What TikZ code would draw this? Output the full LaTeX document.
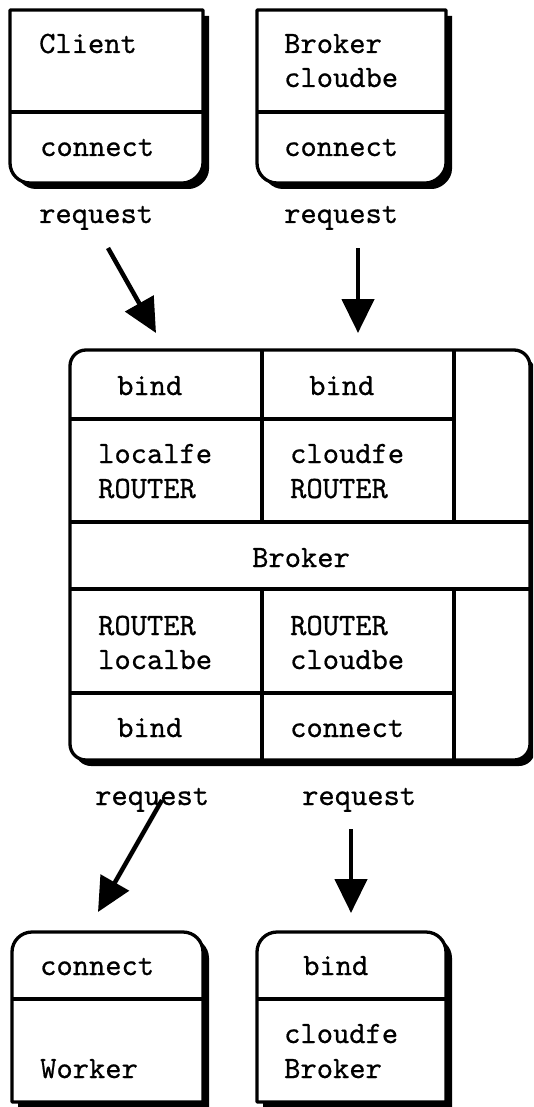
\documentclass[tikz,border=0pt]{standalone}
\usepackage{fontspec}
\newfontfamily\ttheavy{lmmono10-regular.otf}[FakeBold=0.6]
\usetikzlibrary{arrows.meta}
\begin{document}
\begin{tikzpicture}[x=1pt,y=-1pt,
  lbl/.style={anchor=base west,inner sep=0pt,font=\ttheavy\fontsize{31}{35}\selectfont},
  frame/.style={draw=black,line width=3.3pt,fill=white,line join=round},
  shade/.style={fill=black},
  div/.style={line width=3.8pt},
  arr/.style={line width=4.5pt,-{Triangle[length=34pt,width=32pt]}}]
\useasboundingbox (0,0) rectangle (533,1107);
\begin{scope}
\clip (0,0) rectangle (533,1107);
% ---------- top-left box (Client)
\begin{scope}[shift={(6,6)}]
\fill[shade] (10,10) -- (203,10) -- (203,163) .. controls (203,174) and (192,183) .. (183,183) -- (30,183) .. controls (19,183) and (10,174) .. (10,163) -- cycle;
\end{scope}
\draw[frame] (10,10) -- (203,10) -- (203,163) .. controls (203,174) and (192,183) .. (183,183) -- (30,183) .. controls (19,183) and (10,174) .. (10,163) -- cycle;
\draw[div] (10,112) -- (203,112);
% ---------- top-right box (Broker cloudbe)
\begin{scope}[shift={(6,6)}]
\fill[shade] (257,10) -- (446,10) -- (446,163) .. controls (446,174) and (435,183) .. (426,183) -- (277,183) .. controls (266,183) and (257,174) .. (257,163) -- cycle;
\end{scope}
\draw[frame] (257,10) -- (446,10) -- (446,163) .. controls (446,174) and (435,183) .. (426,183) -- (277,183) .. controls (266,183) and (257,174) .. (257,163) -- cycle;
\draw[div] (257,112) -- (446,112);
% ---------- middle broker box
\fill[shade,rounded corners=16pt] (75,356) rectangle (535,766);
\draw[frame,rounded corners=16pt] (70,350) rectangle (530,760);
\draw[div] (262,350) -- (262,522);
\draw[div] (454,350) -- (454,522);
\draw[div] (262,589) -- (262,760);
\draw[div] (454,589) -- (454,760);
\draw[div] (70,419) -- (454,419);
\draw[div] (70,522) -- (530,522);
\draw[div] (70,589) -- (530,589);
\draw[div] (70,693) -- (454,693);
% ---------- bottom-left box (Worker)
\begin{scope}[shift={(6,6)}]
\fill[shade] (12,1102) -- (12,952) .. controls (12,941) and (21,932) .. (32,932) -- (183,932) .. controls (194,932) and (203,941) .. (203,952) -- (203,1102) -- cycle;
\end{scope}
\draw[frame] (12,1102) -- (12,952) .. controls (12,941) and (21,932) .. (32,932) -- (183,932) .. controls (194,932) and (203,941) .. (203,952) -- (203,1102) -- cycle;
\draw[div] (12,999) -- (203,999);
% ---------- bottom-right box (cloudfe Broker)
\begin{scope}[shift={(6,6)}]
\fill[shade] (257,1102) -- (257,952) .. controls (257,941) and (266,932) .. (277,932) -- (426,932) .. controls (437,932) and (446,941) .. (446,952) -- (446,1102) -- cycle;
\end{scope}
\draw[frame] (257,1102) -- (257,952) .. controls (257,941) and (266,932) .. (277,932) -- (426,932) .. controls (437,932) and (446,941) .. (446,952) -- (446,1102) -- cycle;
\draw[div] (257,999) -- (446,999);
\end{scope}
% ---------- texts
\node[lbl] (tClient) at (39,53) {Client};
\node[lbl] (tConn1) at (40,156) {connect};
\node[lbl] (tBrk1) at (284,53) {Broker};
\node[lbl] (tCbe1) at (284,87) {cloudbe};
\node[lbl] (tConn2) at (284,156) {connect};
\node[lbl] (tReq1) at (39,223) {request};
\node[lbl] (tReq2) at (284,223) {request};
\node[lbl] (tBind1) at (117,395) {bind};
\node[lbl] (tBind2) at (309,395) {bind};
\node[lbl] (tLfe) at (98,463) {localfe};
\node[lbl] (tRt1) at (98,498) {ROUTER};
\node[lbl] (tCfe) at (290,463) {cloudfe};
\node[lbl] (tRt2) at (290,498) {ROUTER};
\node[lbl] (tBroker) at (252,567) {Broker};
\node[lbl] (tRt3) at (98,635) {ROUTER};
\node[lbl] (tLbe) at (98,669) {localbe};
\node[lbl] (tRt4) at (290,635) {ROUTER};
\node[lbl] (tCbe2) at (290,669) {cloudbe};
\node[lbl] (tBind3) at (117,737) {bind};
\node[lbl] (tConn3) at (290,737) {connect};
\node[lbl] (tReq3) at (95,805) {request};
\node[lbl] (tReq4) at (302,805) {request};
\node[lbl] (tConn4) at (40,975) {connect};
\node[lbl] (tWorker) at (40,1078) {Worker};
\node[lbl] (tBind4) at (303,975) {bind};
\node[lbl] (tCfe2) at (284,1043) {cloudfe};
\node[lbl] (tBrk2) at (284,1078) {Broker};
% ---------- arrows
\coordinate (a1s) at (108,248); \coordinate (a1e) at (156,333);
\coordinate (a2s) at (358,248); \coordinate (a2e) at (358,333);
\coordinate (a3s) at (162,800); \coordinate (a3e) at (98,912);
\coordinate (a4s) at (351,829); \coordinate (a4e) at (351,913);
\draw[arr] (a1s) -- (a1e);
\draw[arr] (a2s) -- (a2e);
\draw[arr] (a3s) -- (a3e);
\draw[arr] (a4s) -- (a4e);
\end{tikzpicture}
\end{document}
